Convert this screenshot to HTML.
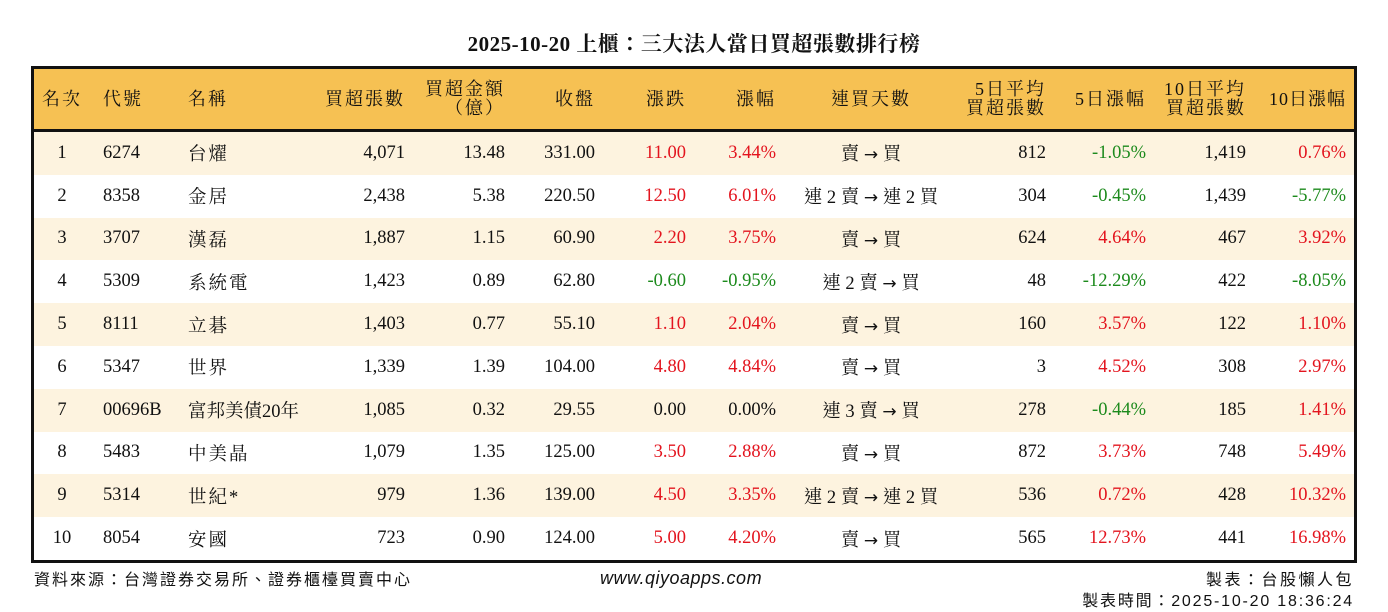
<!DOCTYPE html>
<html><head><meta charset="utf-8"><style>
body{margin:0;width:1388px;height:612px;background:#fff;font-family:"Liberation Serif","Noto Serif CJK TC","Noto Serif CJK SC",serif;color:#111;position:relative;overflow:hidden}
.title{position:absolute;top:28px;left:0;width:1388px;text-align:center;font-size:21px;font-weight:bold;letter-spacing:0.5px}
.tbl{position:absolute;left:31px;top:66px;width:1320px;border:3px solid #111;}
table{border-collapse:collapse;table-layout:fixed;width:1320px}
th{background:#f6c153;height:60px;font-size:18px;font-weight:normal;letter-spacing:2px;line-height:19px;border-bottom:3px solid #111;padding:0}
td{height:42.8px;font-size:18.5px;padding:0;white-space:nowrap}
tr.o td{background:#fdf3df}
.r{text-align:right;padding-right:10px}
.c{text-align:center}
.l{text-align:left;padding-left:13px}
.n{text-align:left;padding-left:8px;letter-spacing:2px}
.red{color:#e3141e}.grn{color:#1c8a1c}
.a{font-family:"DejaVu Sans",sans-serif;font-size:17px}
.f{position:absolute;font-size:16px;letter-spacing:2px;font-family:'Liberation Sans','Noto Sans CJK TC',sans-serif}
</style></head><body>
<div class="title">2025-10-20 上櫃：三大法人當日買超張數排行榜</div>
<div class="tbl"><table>
<colgroup><col style="width:56px"><col style="width:90px"><col style="width:140px"><col style="width:95px"><col style="width:100px"><col style="width:90px"><col style="width:91px"><col style="width:90px"><col style="width:170px"><col style="width:100px"><col style="width:100px"><col style="width:100px"><col style="width:98px"></colgroup>
<tr><th class="c">名次</th><th class="l">代號</th><th class="n">名稱</th><th class="r">買超張數</th><th class="r">買超金額<br>（億）</th><th class="r">收盤</th><th class="r">漲跌</th><th class="r">漲幅</th><th class="c">連買天數</th><th class="r">5日平均<br>買超張數</th><th class="r">5日漲幅</th><th class="r">10日平均<br>買超張數</th><th class="r" style="padding-right:8px;letter-spacing:1px">10日漲幅</th></tr>
<tr class="o"><td class="c">1</td><td class="l">6274</td><td class="n">台燿</td><td class="r">4,071</td><td class="r">13.48</td><td class="r">331.00</td><td class="r red">11.00</td><td class="r red">3.44%</td><td class="c">賣 <span class="a">→</span> 買</td><td class="r">812</td><td class="r grn">-1.05%</td><td class="r">1,419</td><td class="r red" style="padding-right:8px">0.76%</td></tr>
<tr><td class="c">2</td><td class="l">8358</td><td class="n">金居</td><td class="r">2,438</td><td class="r">5.38</td><td class="r">220.50</td><td class="r red">12.50</td><td class="r red">6.01%</td><td class="c">連 2 賣 <span class="a">→</span> 連 2 買</td><td class="r">304</td><td class="r grn">-0.45%</td><td class="r">1,439</td><td class="r grn" style="padding-right:8px">-5.77%</td></tr>
<tr class="o"><td class="c">3</td><td class="l">3707</td><td class="n">漢磊</td><td class="r">1,887</td><td class="r">1.15</td><td class="r">60.90</td><td class="r red">2.20</td><td class="r red">3.75%</td><td class="c">賣 <span class="a">→</span> 買</td><td class="r">624</td><td class="r red">4.64%</td><td class="r">467</td><td class="r red" style="padding-right:8px">3.92%</td></tr>
<tr><td class="c">4</td><td class="l">5309</td><td class="n">系統電</td><td class="r">1,423</td><td class="r">0.89</td><td class="r">62.80</td><td class="r grn">-0.60</td><td class="r grn">-0.95%</td><td class="c">連 2 賣 <span class="a">→</span> 買</td><td class="r">48</td><td class="r grn">-12.29%</td><td class="r">422</td><td class="r grn" style="padding-right:8px">-8.05%</td></tr>
<tr class="o"><td class="c">5</td><td class="l">8111</td><td class="n">立碁</td><td class="r">1,403</td><td class="r">0.77</td><td class="r">55.10</td><td class="r red">1.10</td><td class="r red">2.04%</td><td class="c">賣 <span class="a">→</span> 買</td><td class="r">160</td><td class="r red">3.57%</td><td class="r">122</td><td class="r red" style="padding-right:8px">1.10%</td></tr>
<tr><td class="c">6</td><td class="l">5347</td><td class="n">世界</td><td class="r">1,339</td><td class="r">1.39</td><td class="r">104.00</td><td class="r red">4.80</td><td class="r red">4.84%</td><td class="c">賣 <span class="a">→</span> 買</td><td class="r">3</td><td class="r red">4.52%</td><td class="r">308</td><td class="r red" style="padding-right:8px">2.97%</td></tr>
<tr class="o"><td class="c">7</td><td class="l">00696B</td><td class="n" style="letter-spacing:0">富邦美債20年</td><td class="r">1,085</td><td class="r">0.32</td><td class="r">29.55</td><td class="r">0.00</td><td class="r">0.00%</td><td class="c">連 3 賣 <span class="a">→</span> 買</td><td class="r">278</td><td class="r grn">-0.44%</td><td class="r">185</td><td class="r red" style="padding-right:8px">1.41%</td></tr>
<tr><td class="c">8</td><td class="l">5483</td><td class="n">中美晶</td><td class="r">1,079</td><td class="r">1.35</td><td class="r">125.00</td><td class="r red">3.50</td><td class="r red">2.88%</td><td class="c">賣 <span class="a">→</span> 買</td><td class="r">872</td><td class="r red">3.73%</td><td class="r">748</td><td class="r red" style="padding-right:8px">5.49%</td></tr>
<tr class="o"><td class="c">9</td><td class="l">5314</td><td class="n">世紀*</td><td class="r">979</td><td class="r">1.36</td><td class="r">139.00</td><td class="r red">4.50</td><td class="r red">3.35%</td><td class="c">連 2 賣 <span class="a">→</span> 連 2 買</td><td class="r">536</td><td class="r red">0.72%</td><td class="r">428</td><td class="r red" style="padding-right:8px">10.32%</td></tr>
<tr><td class="c">10</td><td class="l">8054</td><td class="n">安國</td><td class="r">723</td><td class="r">0.90</td><td class="r">124.00</td><td class="r red">5.00</td><td class="r red">4.20%</td><td class="c">賣 <span class="a">→</span> 買</td><td class="r">565</td><td class="r red">12.73%</td><td class="r">441</td><td class="r red" style="padding-right:8px">16.98%</td></tr>
</table></div>
<div class="f" style="left:34px;top:566px">資料來源：台灣證券交易所、證券櫃檯買賣中心</div>
<div class="f" style="left:600px;top:568px;font-size:18px;font-style:italic;letter-spacing:0.5px;font-family:'Liberation Sans',sans-serif">www.qiyoapps.com</div>
<div class="f" style="right:34px;top:566px;letter-spacing:2.5px">製表：台股懶人包</div>
<div class="f" style="right:34px;top:587px;letter-spacing:1.8px">製表時間：2025-10-20 18:36:24</div>
</body></html>
